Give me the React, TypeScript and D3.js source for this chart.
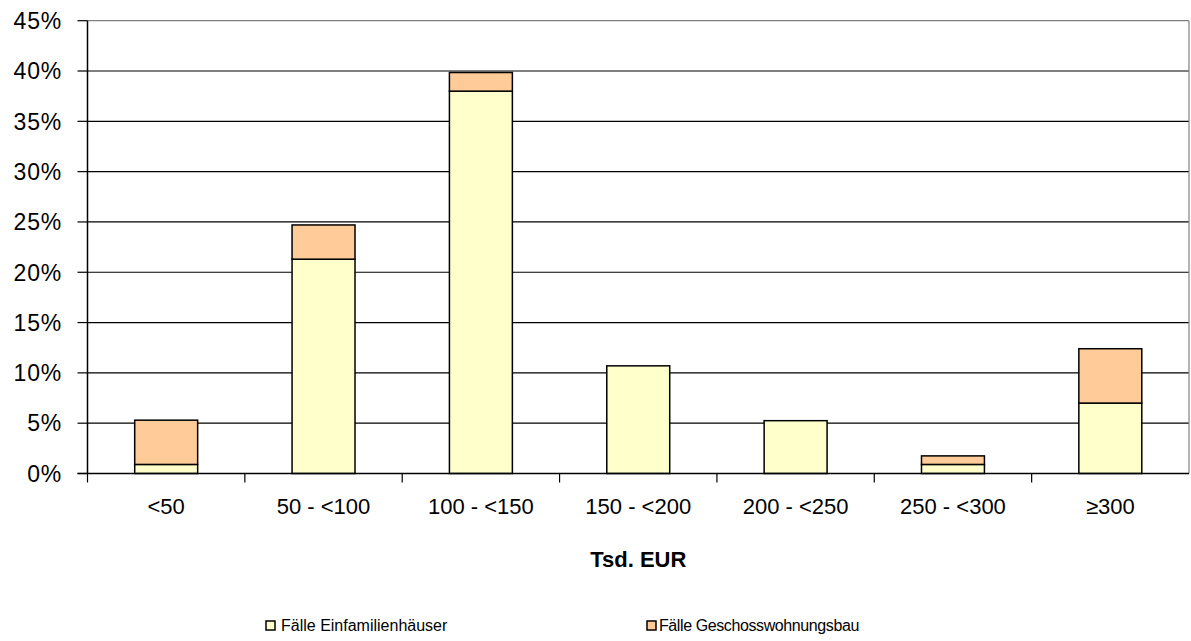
import React, { useEffect, useRef } from 'react';
import * as d3 from 'd3';

const categories = ['<50', '50 - <100', '100 - <150', '150 - <200', '200 - <250', '250 - <300', '≥300'];
const einfamilien = [0.9, 21.3, 38.0, 10.7, 5.25, 0.9, 7.0];
const geschoss = [4.4, 3.4, 1.85, 0, 0, 0.85, 5.4];
const yTicks = [0, 5, 10, 15, 20, 25, 30, 35, 40, 45];
const seriesNames = ['Fälle Einfamilienhäuser', 'Fälle Geschosswohnungsbau'];
const seriesColors = ['#FFFFCC', '#FFCC99'];

const W = 1191;
const H = 641;
const FONT = '"Liberation Sans", Arial, sans-serif';

export default function App() {
  const svgRef = useRef<SVGSVGElement>(null);

  useEffect(() => {
    if (!svgRef.current) return;
    const svg = d3.select(svgRef.current);
    svg.selectAll('*').remove();

    const left = 87.5;
    const right = 1189;
    const top = 20.7;
    const bottom = 473.5;

    const x = d3.scaleBand<string>()
      .domain(categories)
      .range([left, right])
      .paddingInner(0.6)
      .paddingOuter(0.3);

    const y = d3.scaleLinear().domain([0, 45]).range([bottom, top]);

    // gridlines
    svg.append('g')
      .selectAll('line')
      .data(yTicks.filter(t => t > 0))
      .join('line')
      .attr('x1', left)
      .attr('x2', right)
      .attr('y1', d => y(d))
      .attr('y2', d => y(d))
      .attr('stroke', d => (d === 45 ? '#808080' : '#000'))
      .attr('stroke-width', 1.2);

    // right border
    svg.append('line')
      .attr('x1', right).attr('x2', right)
      .attr('y1', top).attr('y2', bottom)
      .attr('stroke', '#808080').attr('stroke-width', 1.2);

    // stacked bars
    const stack = categories.map((c, i) => ({ c, a: einfamilien[i], b: geschoss[i] }));
    const bars = svg.append('g');
    stack.forEach(d => {
      bars.append('rect')
        .attr('x', x(d.c)!)
        .attr('width', x.bandwidth())
        .attr('y', y(d.a))
        .attr('height', y(0) - y(d.a))
        .attr('fill', seriesColors[0])
        .attr('stroke', '#000')
        .attr('stroke-width', 1.5);
      if (d.b > 0) {
        bars.append('rect')
          .attr('x', x(d.c)!)
          .attr('width', x.bandwidth())
          .attr('y', y(d.a + d.b))
          .attr('height', y(d.a) - y(d.a + d.b))
          .attr('fill', seriesColors[1])
          .attr('stroke', '#000')
          .attr('stroke-width', 1.5);
      }
    });

    // y axis
    const yAxis = svg.append('g');
    yAxis.append('line')
      .attr('x1', left).attr('x2', left)
      .attr('y1', top).attr('y2', bottom)
      .attr('stroke', '#000').attr('stroke-width', 1.5);
    yAxis.selectAll('line.tick')
      .data(yTicks)
      .join('line')
      .attr('class', 'tick')
      .attr('x1', left - 10).attr('x2', left)
      .attr('y1', d => y(d)).attr('y2', d => y(d))
      .attr('stroke', '#000').attr('stroke-width', 1.2);
    yAxis.selectAll('text')
      .data(yTicks)
      .join('text')
      .attr('x', 62)
      .attr('y', d => y(d))
      .attr('dy', '0.36em')
      .attr('text-anchor', 'end')
      .attr('font-family', FONT)
      .attr('font-size', 23)
      .attr('letter-spacing', 0.8)
      .text(d => `${d}%`);

    // x axis
    const xAxis = svg.append('g');
    xAxis.append('line')
      .attr('x1', left - 10).attr('x2', right)
      .attr('y1', bottom).attr('y2', bottom)
      .attr('stroke', '#000').attr('stroke-width', 1.5);
    const boundaries = categories.map(c => x(c)! - (x.step() - x.bandwidth()) / 2);
    xAxis.selectAll('line.tick')
      .data(boundaries)
      .join('line')
      .attr('class', 'tick')
      .attr('x1', d => d).attr('x2', d => d)
      .attr('y1', bottom).attr('y2', bottom + 9)
      .attr('stroke', '#000').attr('stroke-width', 1.2);
    xAxis.selectAll('text')
      .data(categories)
      .join('text')
      .attr('x', d => x(d)! + x.bandwidth() / 2)
      .attr('y', 514)
      .attr('text-anchor', 'middle')
      .attr('font-family', FONT)
      .attr('font-size', 22)
      .text(d => d);

    svg.append('text')
      .attr('x', (left + right) / 2)
      .attr('y', 567)
      .attr('text-anchor', 'middle')
      .attr('font-family', FONT)
      .attr('font-size', 22)
      .attr('font-weight', 'bold')
      .text('Tsd. EUR');

    // legend
    const legendX = [266, 647];
    const legend = svg.append('g');
    seriesNames.forEach((name, i) => {
      legend.append('rect')
        .attr('x', legendX[i])
        .attr('y', 621)
        .attr('width', 9)
        .attr('height', 9)
        .attr('fill', seriesColors[i])
        .attr('stroke', '#000')
        .attr('stroke-width', 1.5);
      legend.append('text')
        .attr('x', legendX[i] + (i === 0 ? 15 : 12))
        .attr('y', 631)
        .attr('font-family', FONT)
        .attr('font-size', 16)
        .attr('letter-spacing', i === 0 ? 0 : -0.4)
        .text(name);
    });
  }, []);

  return (
    <svg
      ref={svgRef}
      width={W}
      height={H}
      style={{ position: 'absolute', left: 0, top: 0, background: '#fff' }}
    />
  );
}
